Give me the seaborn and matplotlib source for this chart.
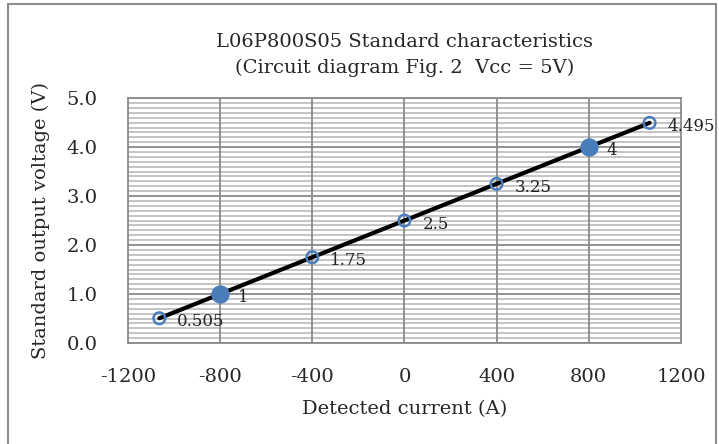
import matplotlib.pyplot as plt
import seaborn as sns
import pandas as pd
from matplotlib.patches import Rectangle
from matplotlib.ticker import MultipleLocator

sns.set_style('white')
plt.rcParams['font.family'] = ['DejaVu Serif']

# Datos
current = [-1064, -800, -400, 0, 400, 800, 1064]
voltage = [0.505, 1.0, 1.75, 2.5, 3.25, 4.0, 4.495]
labels = ['0.505', '1', '1.75', '2.5', '3.25', '4', '4.495']
filled = [False, True, False, False, False, True, False]
xticks = [-1200, -800, -400, 0, 400, 800, 1200]

data = pd.DataFrame({'current': current, 'voltage': voltage, 'filled': filled})

fig = plt.figure(figsize=(7.19, 4.44), dpi=100)
ax = fig.add_axes([0.178, 0.2275, 0.769, 0.5515])

# marco gris alrededor de la figura
fig.patches.append(Rectangle((0.011, -0.05), 0.985, 1.04, transform=fig.transFigure,
                             fill=False, edgecolor='#8c8c8c', linewidth=1.5))

ax.set_xlim(-1200, 1200)
ax.set_ylim(0, 5)
ax.yaxis.set_major_locator(MultipleLocator(1))
ax.yaxis.set_minor_locator(MultipleLocator(0.1))
ax.grid(which='minor', axis='y', color='#c4c4c4', linewidth=1.4)
ax.grid(which='major', axis='y', color='#8a8a8a', linewidth=1.3)
ax.set_axisbelow(True)
# lineas verticales encima de las menores
for xv in xticks[1:-1]:
    ax.axvline(xv, color='#8a8a8a', linewidth=1.3, zorder=1)
for s in ax.spines.values():
    s.set_color('#8a8a8a')
    s.set_linewidth(1.3)

sns.lineplot(data=data, x='current', y='voltage', color='black', linewidth=3, ax=ax, zorder=3)

hollow = data[~data['filled']]
solid = data[data['filled']]
sns.scatterplot(data=hollow, x='current', y='voltage', s=70, facecolor='none',
                edgecolor='#4a7ebb', linewidth=1.8, ax=ax, zorder=4)
sns.scatterplot(data=solid, x='current', y='voltage', s=150, color='#4a7ebb',
                edgecolor='#4a7ebb', ax=ax, zorder=4)

for xv, yv, lab in zip(current, voltage, labels):
    ax.annotate(lab, (xv, yv), xytext=(13, -2.5), textcoords='offset points',
                ha='left', va='center', fontsize=12, color='#222222', zorder=5,
                annotation_clip=False)

ax.set_xticks(xticks)
ax.set_xticklabels(['-1200', '-800', '-400', '0', '400', '800', '1200'])
ax.set_yticks([0, 1, 2, 3, 4, 5])
ax.set_yticklabels(['0.0', '1.0', '2.0', '3.0', '4.0', '5.0'])
ax.tick_params(axis='both', which='both', length=0, labelsize=14, pad=18)
ax.tick_params(axis='y', pad=22)

ax.set_xlabel('Detected current (A)', fontsize=14, labelpad=10)
ax.set_ylabel('Standard output voltage (V)', fontsize=14, labelpad=12)
ax.set_title('L06P800S05 Standard characteristics\n(Circuit diagram Fig. 2  Vcc = 5V)',
             fontsize=14, pad=18, linespacing=1.55)

plt.savefig('out.png', dpi=100)
